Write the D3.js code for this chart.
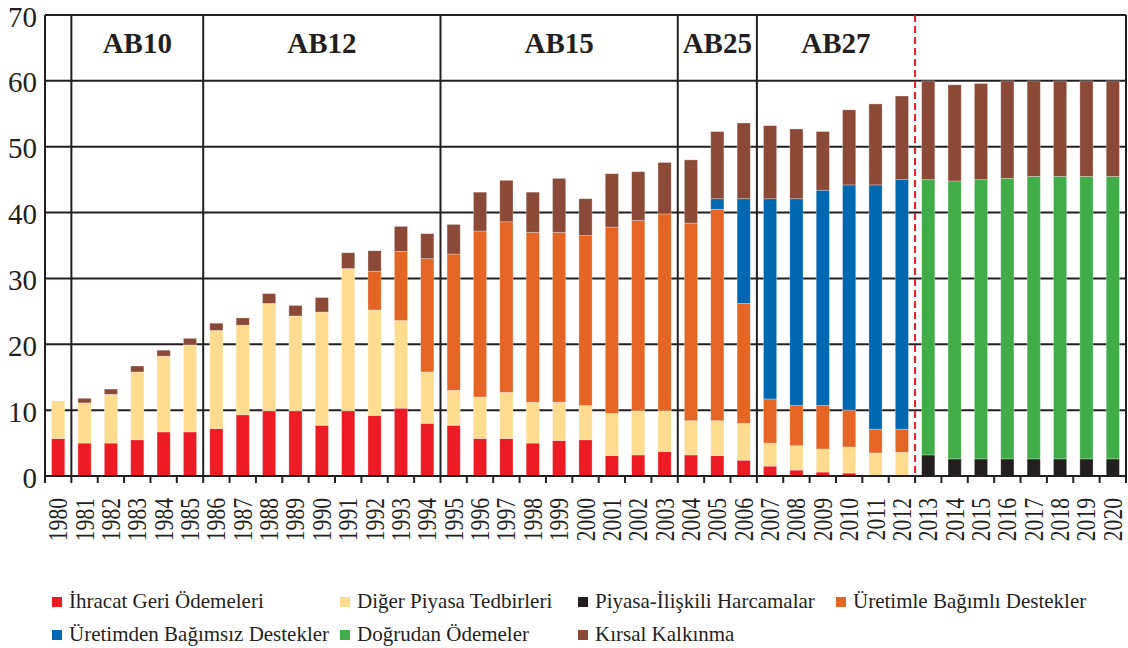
<!DOCTYPE html>
<html><head><meta charset="utf-8">
<script src="https://cdn.jsdelivr.net/npm/d3@7"></script>
<style>html,body{margin:0;padding:0;background:#fff;}svg{display:block;}</style>
</head><body>
<svg id="c" width="1128" height="648"></svg>
<script>
const years = d3.range(1980, 2021).map(String);
const yTicks = [0,10,20,30,40,50,60,70];
const seriesNames = ["İhracat Geri Ödemeleri","Diğer Piyasa Tedbirleri","Piyasa-İlişkili Harcamalar","Üretimle Bağımlı Destekler","Üretimden Bağımsız Destekler","Doğrudan Ödemeler","Kırsal Kalkınma"];
const seriesColors = ["#ED1C24","#FDDC8F","#231F20","#E46524","#0067B1","#41AD49","#8B4A38"];
// values per year 1980..2020
const ihracat = [5.7,5.0,5.0,5.5,6.7,6.7,7.2,9.3,9.9,9.9,7.7,9.9,9.2,10.3,8.0,7.7,5.7,5.7,5.0,5.4,5.5,3.1,3.2,3.7,3.2,3.1,2.4,1.5,0.9,0.6,0.45,0,0,0,0,0,0,0,0,0,0];
const digerPiyasa = [5.7,6.1,7.4,10.3,11.5,13.2,14.9,13.6,16.3,14.4,17.2,21.6,16.0,13.3,7.8,5.3,6.3,7.0,6.2,5.8,5.2,6.4,6.7,6.2,5.2,5.3,5.6,3.5,3.7,3.5,3.95,3.5,3.6,0,0,0,0,0,0,0,0];
const piyasaIliskili = [0,0,0,0,0,0,0,0,0,0,0,0,0,0,0,0,0,0,0,0,0,0,0,0,0,0,0,0,0,0,0,0,0,3.2,2.6,2.6,2.6,2.6,2.6,2.6,2.6];
const uretimleBagimli = [0,0,0,0,0,0,0,0,0,0,0,0,5.9,10.5,17.2,20.7,25.2,25.9,25.8,25.8,25.8,28.3,28.9,29.9,30.0,32.1,18.2,6.7,6.1,6.6,5.6,3.6,3.5,0,0,0,0,0,0,0,0];
const uretimdenBagimsiz = [0,0,0,0,0,0,0,0,0,0,0,0,0,0,0,0,0,0,0,0,0,0,0,0,0,1.6,15.9,30.4,31.4,32.7,34.2,37.1,37.9,0,0,0,0,0,0,0,0];
const dogrudanOdemeler = [0,0,0,0,0,0,0,0,0,0,0,0,0,0,0,0,0,0,0,0,0,0,0,0,0,0,0,0,0,0,0,0,0,41.8,42.2,42.4,42.6,42.9,42.9,42.9,42.9];
const kirsalKalkinma = [0,0.7,0.8,0.9,0.9,1.0,1.1,1.1,1.5,1.6,2.2,2.4,3.1,3.8,3.8,4.5,5.9,6.3,6.1,8.2,5.6,8.1,7.4,7.8,9.6,10.2,11.5,11.1,10.6,8.9,11.4,12.3,12.7,15.0,14.6,14.6,14.8,14.5,14.5,14.5,14.5];
const periods = ["AB10","AB12","AB15","AB25","AB27"];
const periodStart = ["1981","1986","1995","2004","2007"];
const periodEnd = ["1985","1994","2003","2006","2012"];
const dashedAt = "2013";

const seriesData = [ihracat,digerPiyasa,piyasaIliskili,uretimleBagimli,uretimdenBagimsiz,dogrudanOdemeler,kirsalKalkinma];
const rows = years.map((y,i)=>{const o={year:y}; seriesNames.forEach((n,k)=>o[n]=seriesData[k][i]); return o;});
const stack = d3.stack().keys(seriesNames)(rows);

const svg = d3.select("#c");
const L=45, R=1126, T=15, B=476;
const x = d3.scaleBand().domain(years).range([L,R]).paddingInner(0.5).paddingOuter(0.25);
const y = d3.scaleLinear().domain([0,70]).range([B,T]);
const step = x.step();
const leftEdge = yr => x(yr) + x.bandwidth()/2 - step/2;
const rightEdge = yr => x(yr) + x.bandwidth()/2 + step/2;
const ink = "#231F20";
const serif = "'Liberation Serif','Times New Roman',serif";

// gridlines
svg.append("g").selectAll("line").data(yTicks.filter(t=>t>0)).join("line")
  .attr("x1",L).attr("x2",R).attr("y1",d=>y(d)).attr("y2",d=>y(d))
  .attr("stroke",ink).attr("stroke-width",2);

// bars
svg.append("g").selectAll("g").data(stack).join("g")
  .attr("fill",(d,i)=>seriesColors[i])
  .selectAll("rect").data(d=>d.filter(s=>s[1]-s[0]>0)).join("rect")
  .attr("x",d=>x(d.data.year)).attr("width",x.bandwidth())
  .attr("y",d=>y(d[1])).attr("height",d=>y(d[0])-y(d[1]))
  .attr("stroke","rgba(255,255,255,0.35)").attr("stroke-width",0.8);

// section vertical lines
svg.append("g").selectAll("line").data(periodStart).join("line")
  .attr("x1",d=>leftEdge(d)).attr("x2",d=>leftEdge(d)).attr("y1",T).attr("y2",B)
  .attr("stroke",ink).attr("stroke-width",2);
// dashed line
svg.append("line").attr("x1",leftEdge(dashedAt)).attr("x2",leftEdge(dashedAt))
  .attr("y1",T).attr("y2",B).attr("stroke","#ED1C24").attr("stroke-width",2).attr("stroke-dasharray","7,4");
// right border
svg.append("line").attr("x1",R).attr("x2",R).attr("y1",T).attr("y2",B).attr("stroke",ink).attr("stroke-width",2);

// period labels
svg.append("g").selectAll("text").data(periods).join("text")
  .attr("x",(d,i)=>(leftEdge(periodStart[i])+rightEdge(periodEnd[i]))/2)
  .attr("y",52.5).attr("text-anchor","middle")
  .attr("font-family",serif).attr("font-weight","bold").attr("font-size",29).attr("fill",ink)
  .text(d=>d);

// y axis
const yAxis = d3.axisLeft(y).tickValues(yTicks).tickSize(0).tickPadding(8);
const gy = svg.append("g").attr("transform",`translate(${L},0)`).call(yAxis);
gy.select(".domain").remove();
gy.selectAll("text").attr("font-family",serif).attr("font-size",29).attr("fill",ink).attr("dy","0.38em");
svg.append("line").attr("x1",L).attr("x2",L).attr("y1",T).attr("y2",B+7).attr("stroke",ink).attr("stroke-width",2);

// x axis baseline + ticks at boundaries
svg.append("line").attr("x1",L).attr("x2",R).attr("y1",B).attr("y2",B).attr("stroke",ink).attr("stroke-width",2);
svg.append("g").selectAll("line").data(years).join("line")
  .attr("x1",d=>rightEdge(d)).attr("x2",d=>rightEdge(d)).attr("y1",B).attr("y2",B+7)
  .attr("stroke",ink).attr("stroke-width",2);
// year labels
svg.append("g").selectAll("text").data(years).join("text")
  .attr("transform",d=>`translate(${x(d)+x.bandwidth()/2+9},498) rotate(-90) scale(0.8,1)`)
  .attr("text-anchor","end").attr("font-family",serif).attr("font-size",27).attr("fill",ink)
  .text(d=>d);

// legend
const legendPos = [[52,608],[340,608],[578,608],[836,608],[52,641],[340,641],[578,641]];
const lg = svg.append("g").selectAll("g").data(seriesNames).join("g")
  .attr("transform",(d,i)=>`translate(${legendPos[i][0]},${legendPos[i][1]})`);
lg.append("rect").attr("x",0).attr("y",-11).attr("width",10).attr("height",10).attr("fill",(d,i)=>seriesColors[i]);
lg.append("text").attr("x",17).attr("y",0).attr("font-family",serif).attr("font-size",21).attr("fill",ink).text(d=>d);
</script>
</body></html>
